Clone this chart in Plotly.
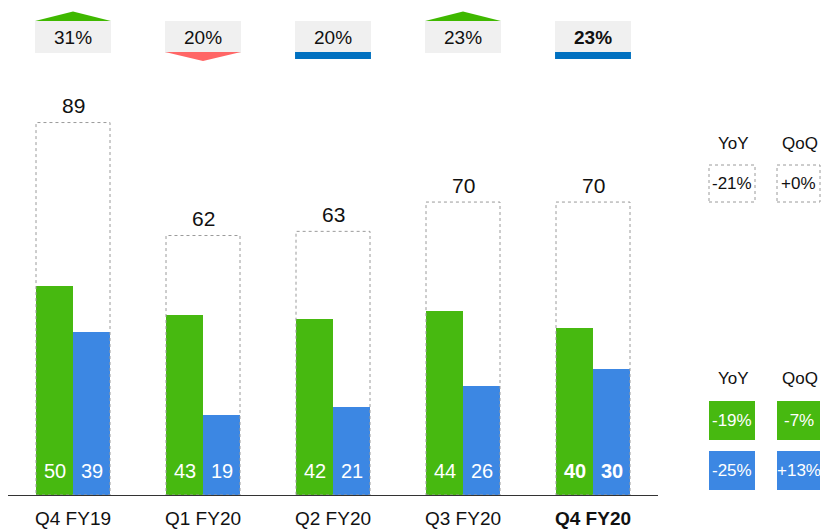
import plotly.graph_objects as go

# ---------------- data ----------------
categories = ["Q4 FY19", "Q1 FY20", "Q2 FY20", "Q3 FY20", "Q4 FY20"]
green_vals = [50, 43, 42, 44, 40]
blue_vals = [39, 19, 21, 26, 30]
totals = [89, 62, 63, 70, 70]
badge_vals = ["31%", "20%", "20%", "23%", "23%"]
badge_dir = ["up", "down", "flat", "up", "flat"]
yoy_total, qoq_total = "-21%", "+0%"
yoy_green, qoq_green = "-19%", "-7%"
yoy_blue, qoq_blue = "-25%", "+13%"

# ---------------- style ----------------
FONT = "Liberation Sans, Arial, sans-serif"
GREEN = "#47b910"
BLUE = "#3c87e3"
W, H = 823, 529
ML, MR, MB, MT = 8, 165, 34, 0
PW, PH = W - ML - MR, H - MB - MT
idx = list(range(len(categories)))
last = len(categories) - 1


def px_x(px):
    return (px - ML) / PW


def px_y(py):
    return (PH - py) / PH


def fmt(s, i):
    return f"<b>{s}</b>" if i == last else s


fig = go.Figure()
half = 0.2846
fig.add_trace(go.Bar(x=idx, y=totals, width=2 * half, marker=dict(color="rgba(0,0,0,0)", line=dict(width=0)),
                     hoverinfo="skip", showlegend=False, name="total"))
fig.add_trace(go.Bar(x=idx, y=green_vals, width=half, offset=-half, marker=dict(color=GREEN, line=dict(width=0)),
                     showlegend=False, name="green"))
fig.add_trace(go.Bar(x=idx, y=blue_vals, width=half, offset=0, marker=dict(color=BLUE, line=dict(width=0)),
                     showlegend=False, name="blue"))

shapes = []
annotations = []
for i in idx:
    # dashed outline of total
    shapes.append(dict(type="rect", xref="x", yref="y", x0=i - half, x1=i + half, y0=0, y1=totals[i],
                       line=dict(color="#9a9a9a", width=1, dash="dot"), layer="above"))
    # total label
    annotations.append(dict(x=i, y=totals[i], xref="x", yref="y", yshift=17, yanchor="middle", xanchor="center",
                            text=str(totals[i]), showarrow=False,
                            font=dict(size=21, color="#111", family=FONT)))
    # inside labels
    annotations.append(dict(x=i - half / 2, y=0, xref="x", yref="y", yshift=24.5, yanchor="middle",
                            xanchor="center", text=fmt(str(green_vals[i]), i), showarrow=False,
                            font=dict(size=20, color="white", family=FONT)))
    annotations.append(dict(x=i + half / 2, y=0, xref="x", yref="y", yshift=24.5, yanchor="middle",
                            xanchor="center", text=fmt(str(blue_vals[i]), i), showarrow=False,
                            font=dict(size=20, color="white", family=FONT)))
    # badges
    bw = 0.292
    shapes.append(dict(type="rect", xref="x", yref="paper", x0=i - bw, x1=i + bw, y0=px_y(53), y1=px_y(21),
                       fillcolor="#f0f0f0", line=dict(width=0), layer="above"))
    if badge_dir[i] == "up":
        shapes.append(dict(type="path", xref="x", yref="paper",
                           path=f"M {i - bw},{px_y(21)} L {i + bw},{px_y(21)} L {i},{px_y(11.5)} Z",
                           fillcolor="#3fb800", line=dict(width=0), layer="above"))
    elif badge_dir[i] == "down":
        shapes.append(dict(type="path", xref="x", yref="paper",
                           path=f"M {i - bw},{px_y(52)} L {i + bw},{px_y(52)} L {i},{px_y(61)} Z",
                           fillcolor="#ff6666", line=dict(width=0), layer="above"))
    else:
        shapes.append(dict(type="rect", xref="x", yref="paper", x0=i - bw, x1=i + bw, y0=px_y(59), y1=px_y(52),
                           fillcolor="#0070c0", line=dict(width=0), layer="above"))
    annotations.append(dict(x=i, y=px_y(37.5), xref="x", yref="paper", yanchor="middle", xanchor="center",
                            text=fmt(badge_vals[i], i), showarrow=False,
                            font=dict(size=19, color="#111", family=FONT)))

# right-side change panels
cols = [(709, 755), (777, 820)]
for top_hdr in (143, 378):
    for (a, b), lbl in zip(cols, ["YoY", "QoQ"]):
        annotations.append(dict(x=px_x((a + b) / 2 + 1), y=px_y(top_hdr), xref="paper", yref="paper",
                                yanchor="middle", xanchor="center", text=lbl, showarrow=False,
                                font=dict(size=17, color="#111", family=FONT)))

rows = [
    (165, 202, [yoy_total, qoq_total], "white", "#111", True),
    (401, 440, [yoy_green, qoq_green], GREEN, "white", False),
    (451, 490, [yoy_blue, qoq_blue], BLUE, "white", False),
]
for y0, y1, vals, fill, tcol, dashed in rows:
    for (a, b), v in zip(cols, vals):
        shapes.append(dict(type="rect", xref="paper", yref="paper", x0=px_x(a), x1=px_x(b),
                           y0=px_y(y1), y1=px_y(y0), fillcolor=fill,
                           line=dict(color="#9a9a9a", width=1, dash="dot") if dashed else dict(width=0)))
        annotations.append(dict(x=px_x((a + b) / 2), y=px_y((y0 + y1) / 2), xref="paper", yref="paper",
                                yanchor="middle", xanchor="center", text=v, showarrow=False,
                                font=dict(size=17, color=tcol, family=FONT)))

fig.update_layout(
    width=W, height=H, margin=dict(l=ML, r=MR, t=MT, b=MB),
    paper_bgcolor="white", plot_bgcolor="white",
    barmode="overlay", bargap=0,
    shapes=shapes, annotations=annotations,
    font=dict(family=FONT, color="#111"),
    xaxis=dict(range=[-0.5, 4.5], tickvals=idx, ticktext=[fmt(c, i) for i, c in enumerate(categories)],
               showgrid=False, zeroline=False, showline=True, linecolor="#333", linewidth=1,
               ticks="", ticklabelstandoff=6, tickfont=dict(size=19, color="#111", family=FONT),
               fixedrange=True),
    yaxis=dict(range=[0, PH / 4.185], visible=False, showgrid=False, zeroline=False, fixedrange=True),
)

fig.write_html("out.html")
